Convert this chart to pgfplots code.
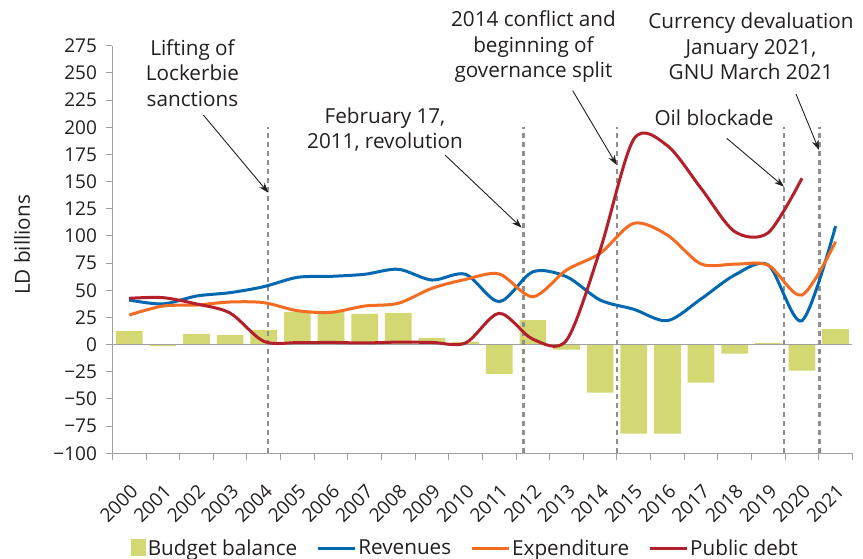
\documentclass[border=0pt]{standalone}
\usepackage{fontspec}
\setmainfont{Open Sans}
\usepackage{pgfplots}
\pgfplotsset{compat=1.18}
\usetikzlibrary{arrows.meta}
\definecolor{barcol}{HTML}{D3D873}
\definecolor{revblue}{HTML}{0068B0}
\definecolor{expor}{HTML}{F36C21}
\definecolor{debtred}{HTML}{B3202A}
\definecolor{axgray}{HTML}{A0A0A0}
\definecolor{dashgray}{HTML}{8F8F8F}
\definecolor{txt}{HTML}{231F20}

\begin{document}
\begin{tikzpicture}[font=\fontsize{20.7}{25.5}\selectfont, color=txt]
\useasboundingbox (-112.4pt,-105.7pt) rectangle (750.6pt,453.3pt);
\begin{axis}[
  at={(0pt,0pt)}, anchor=south west,
  scale only axis, width=740pt, height=407.6pt,
  xmin=1999.5, xmax=2021.5, ymin=-100, ymax=275,
  axis x line*=bottom, axis y line*=left,
  axis line style={-, draw=axgray, line width=1.2pt},
  tick align=outside,
  xtick={2000,...,2021},
  xticklabels={2000,2001,2002,2003,2004,2005,2006,2007,2008,2009,2010,2011,2012,2013,2014,2015,2016,2017,2018,2019,2020,2021},
  major x tick style={draw=none},
  minor xtick={1999.5,2000.5,...,2021.5},
  minor tick length=7pt,
  minor x tick style={draw=axgray, line width=1pt},
  ytick={-100,-75,...,275},
  yticklabels={−100,−75,−50,−25,0,25,50,75,100,125,150,175,200,225,250,275},
  major tick length=6pt,
  y tick style={draw=axgray, line width=1pt},
  tick label style={font=\fontsize{19}{19}\selectfont, text=txt},
  xticklabel style={rotate=45, anchor=north east},
  xticklabel shift=19pt,
  yticklabel style={xshift=-6pt},
  no markers,
  clip=false,
  legend columns=4,
  legend style={draw=none, fill=none, at={(0.477,-0.233)}, anchor=center,
    font=\fontsize{20.7}{20.7}\selectfont, text=txt,
    /tikz/every even column/.append style={column sep=17pt}},
  legend cell align=left,
  legend image code/.code={\draw[#1, line width=3pt] (0pt,0pt) -- (37pt,0pt);},
]
% budget balance
\addplot[ybar, bar width=26.7pt, fill=barcol, draw=none,
  legend image code/.code={\fill[barcol] (0pt,-8pt) rectangle (15pt,9pt);}]
  coordinates {
  (2000,12.5) (2001,-1.5) (2002,9.8) (2003,8.8) (2004,13.4) (2005,30)
  (2006,30) (2007,28.2) (2008,29.1) (2009,6.1) (2010,2.4) (2011,-27)
  (2012,22.6) (2013,-4.6) (2014,-44.2) (2015,-82) (2016,-82) (2017,-35)
  (2018,-8.3) (2019,1.5) (2020,-24) (2021,14.3)
};
\addlegendentry{Budget balance}
\draw[axgray, line width=1.2pt] (axis cs:1999.5,0) -- (axis cs:2021.5,0);
\foreach \xv in {2004.12,2011.72,2014.5,2019.47,2020.52} {
  \edef\tmp{\noexpand\draw[dashgray, line width=2.2pt, dash pattern=on 5pt off 4pt]
    (axis cs:\xv,-100) -- (axis cs:\xv,200);}\tmp
}
% revenues
\addplot[revblue, line width=3pt, smooth, tension=0.5] coordinates {
  (2000,41) (2001,37.4) (2002,44.7) (2003,47.8) (2004,53.3) (2005,61.9)
  (2006,62.8) (2007,64.7) (2008,69.3) (2009,59.4) (2010,64.7) (2011,39.5)
  (2012,67) (2013,62.5) (2014,41) (2015,32.5) (2016,22) (2017,42)
  (2018,64) (2019,73.2) (2020,22) (2021,109)
};
\addlegendentry{Revenues}
% expenditure
\addplot[expor, line width=3pt, smooth, tension=0.5] coordinates {
  (2000,27.2) (2001,35.5) (2002,36.4) (2003,39.2) (2004,38.6) (2005,31.2)
  (2006,29.7) (2007,35.5) (2008,38) (2009,51.8) (2010,60) (2011,65)
  (2012,44) (2013,68.6) (2014,84) (2015,111.6) (2016,100.8) (2017,74.2)
  (2018,74) (2019,73) (2020,45.6) (2021,94.7)
};
\addlegendentry{Expenditure}
% public debt
\addplot[debtred, line width=3pt, smooth, tension=0.5] coordinates {
  (2000,42.6) (2001,43.2) (2002,37.4) (2003,29) (2004,3) (2005,1.8)
  (2006,2) (2007,1.5) (2008,2.3) (2009,2) (2010,1.5) (2011,28.8)
  (2012,5) (2013,4) (2014,87) (2015,189) (2016,183) (2017,143.8)
  (2018,104) (2019,103) (2020,153)
};
\addlegendentry{Public debt}
\end{axis}
\node[rotate=90] at (-90.4pt,208.3pt) {LD billions};
\node[align=center] at (80.1pt,380.3pt) {Lifting of\\Lockerbie\\sanctions};
\node[align=center] at (272.6pt,323.8pt) {February 17,\\2011, revolution};
\node[align=center] at (421.1pt,406.6pt) {2014 conflict and\\beginning of\\governance split};
\node[align=center] at (638.6pt,406.6pt) {Currency devaluation\\January 2021,\\GNU March 2021};
\node at (601.6pt,335.3pt) {Oil blockade};
\begin{scope}[-{Stealth[length=10pt,width=7pt]}, line width=0.9pt, draw=txt]
\draw (90.9pt,338.3pt) -- (155.9pt,260.6pt);
\draw (332.6pt,298.3pt) -- (409.3pt,225.6pt);
\draw (460.3pt,362.6pt) -- (504.3pt,288.3pt);
\draw (683.6pt,359.3pt) -- (706.6pt,303.3pt);
\draw (614.3pt,315pt) -- (671.6pt,266.6pt);
\end{scope}
\end{tikzpicture}
\end{document}
